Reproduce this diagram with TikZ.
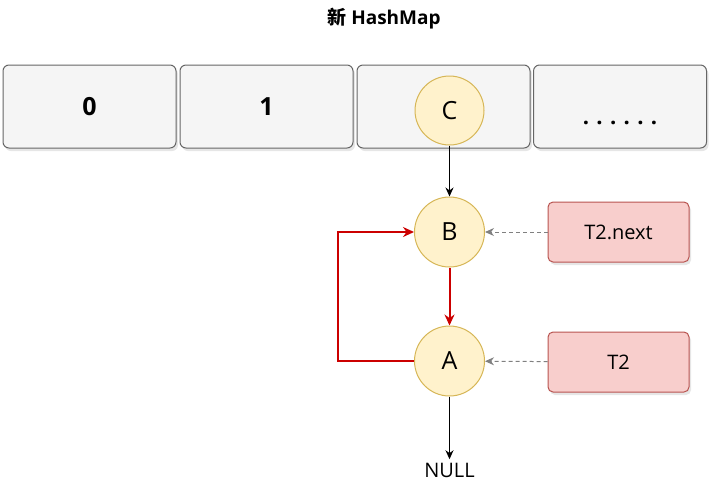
\documentclass[tikz,border=0pt]{standalone}
\usepackage{fontspec}
\setmainfont{Open Sans}
\newfontfamily\cjkfont{Noto Sans CJK SC}
\usetikzlibrary{arrows.meta,shadows}
\definecolor{cellfill}{HTML}{F5F5F5}
\definecolor{cellline}{HTML}{666666}
\definecolor{nodefill}{HTML}{FFF2CC}
\definecolor{nodeline}{HTML}{D6B656}
\definecolor{ptrfill}{HTML}{F8CECC}
\definecolor{ptrline}{HTML}{B85450}
\definecolor{redline}{HTML}{CC0000}
\begin{document}
\begin{tikzpicture}[x=1pt,y=-1pt,
  cell/.style={draw=cellline,fill=cellfill,line width=1pt,rounded corners=6pt,minimum width=173pt,minimum height=83pt,inner sep=0pt,font=\fontsize{25}{30}\selectfont\bfseries,drop shadow={shadow xshift=2pt,shadow yshift=-3pt,opacity=0.2}},
  ball/.style={circle,draw=nodeline,fill=nodefill,line width=1pt,minimum size=70pt,inner sep=0pt,font=\fontsize{25}{30}\selectfont},
  ptr/.style={draw=ptrline,fill=ptrfill,line width=1pt,rounded corners=5pt,minimum width=141pt,minimum height=60pt,inner sep=0pt,font=\fontsize{20}{24}\selectfont,drop shadow={shadow xshift=2pt,shadow yshift=-3pt,opacity=0.2}},
  blk/.style={-{Stealth[length=9pt,width=8pt]},line width=1pt,black},
  red/.style={-{Stealth[length=11pt,width=10pt]},line width=2pt,redline},
  dsh/.style={-{Stealth[length=9pt,width=8pt]},line width=1pt,gray,dashed,dash pattern=on 4pt off 3pt}]
\useasboundingbox (0,0) rectangle (711,483);
\node (title) at (384,19) {\fontsize{19}{23}\selectfont\bfseries{\cjkfont\bfseries 新} HashMap};
\node[cell] (c0) at (89.5,106.5) {0};
\node[cell] (c1) at (266.5,106.5) {1};
\node[cell] (c2) at (443.5,106.5) {};
\node[cell,font=\fontsize{22}{26}\selectfont\bfseries,text height=20pt,text depth=0pt] (c3) at (620,106.5) {\raisebox{-8pt}{.\,\,.\,\,.\,\,.\,\,.\,\,.}};
\node[ball,minimum width=69pt,minimum height=66pt] (C) at (449.5,110.5) {C};
\node[ball] (B) at (449.5,232) {B};
\node[ball] (A) at (449.5,361) {A};
\node[ptr] (p1) at (618.5,232) {T2.next};
\node[ptr] (p2) at (618.5,362) {T2};
\node (null) at (449.5,470) {\fontsize{20}{24}\selectfont NULL};
\draw[blk] (C) -- (B);
\draw[blk] (A) -- (null);
\draw[red] (B) -- (A);
\coordinate (lc) at (338,0);
\draw[red] (A.west) -- (lc |- A.west) -- (lc |- B.west) -- (B.west);
\draw[dsh] (p1) -- (B);
\draw[dsh] (p2) -- (A);
\end{tikzpicture}
\end{document}
